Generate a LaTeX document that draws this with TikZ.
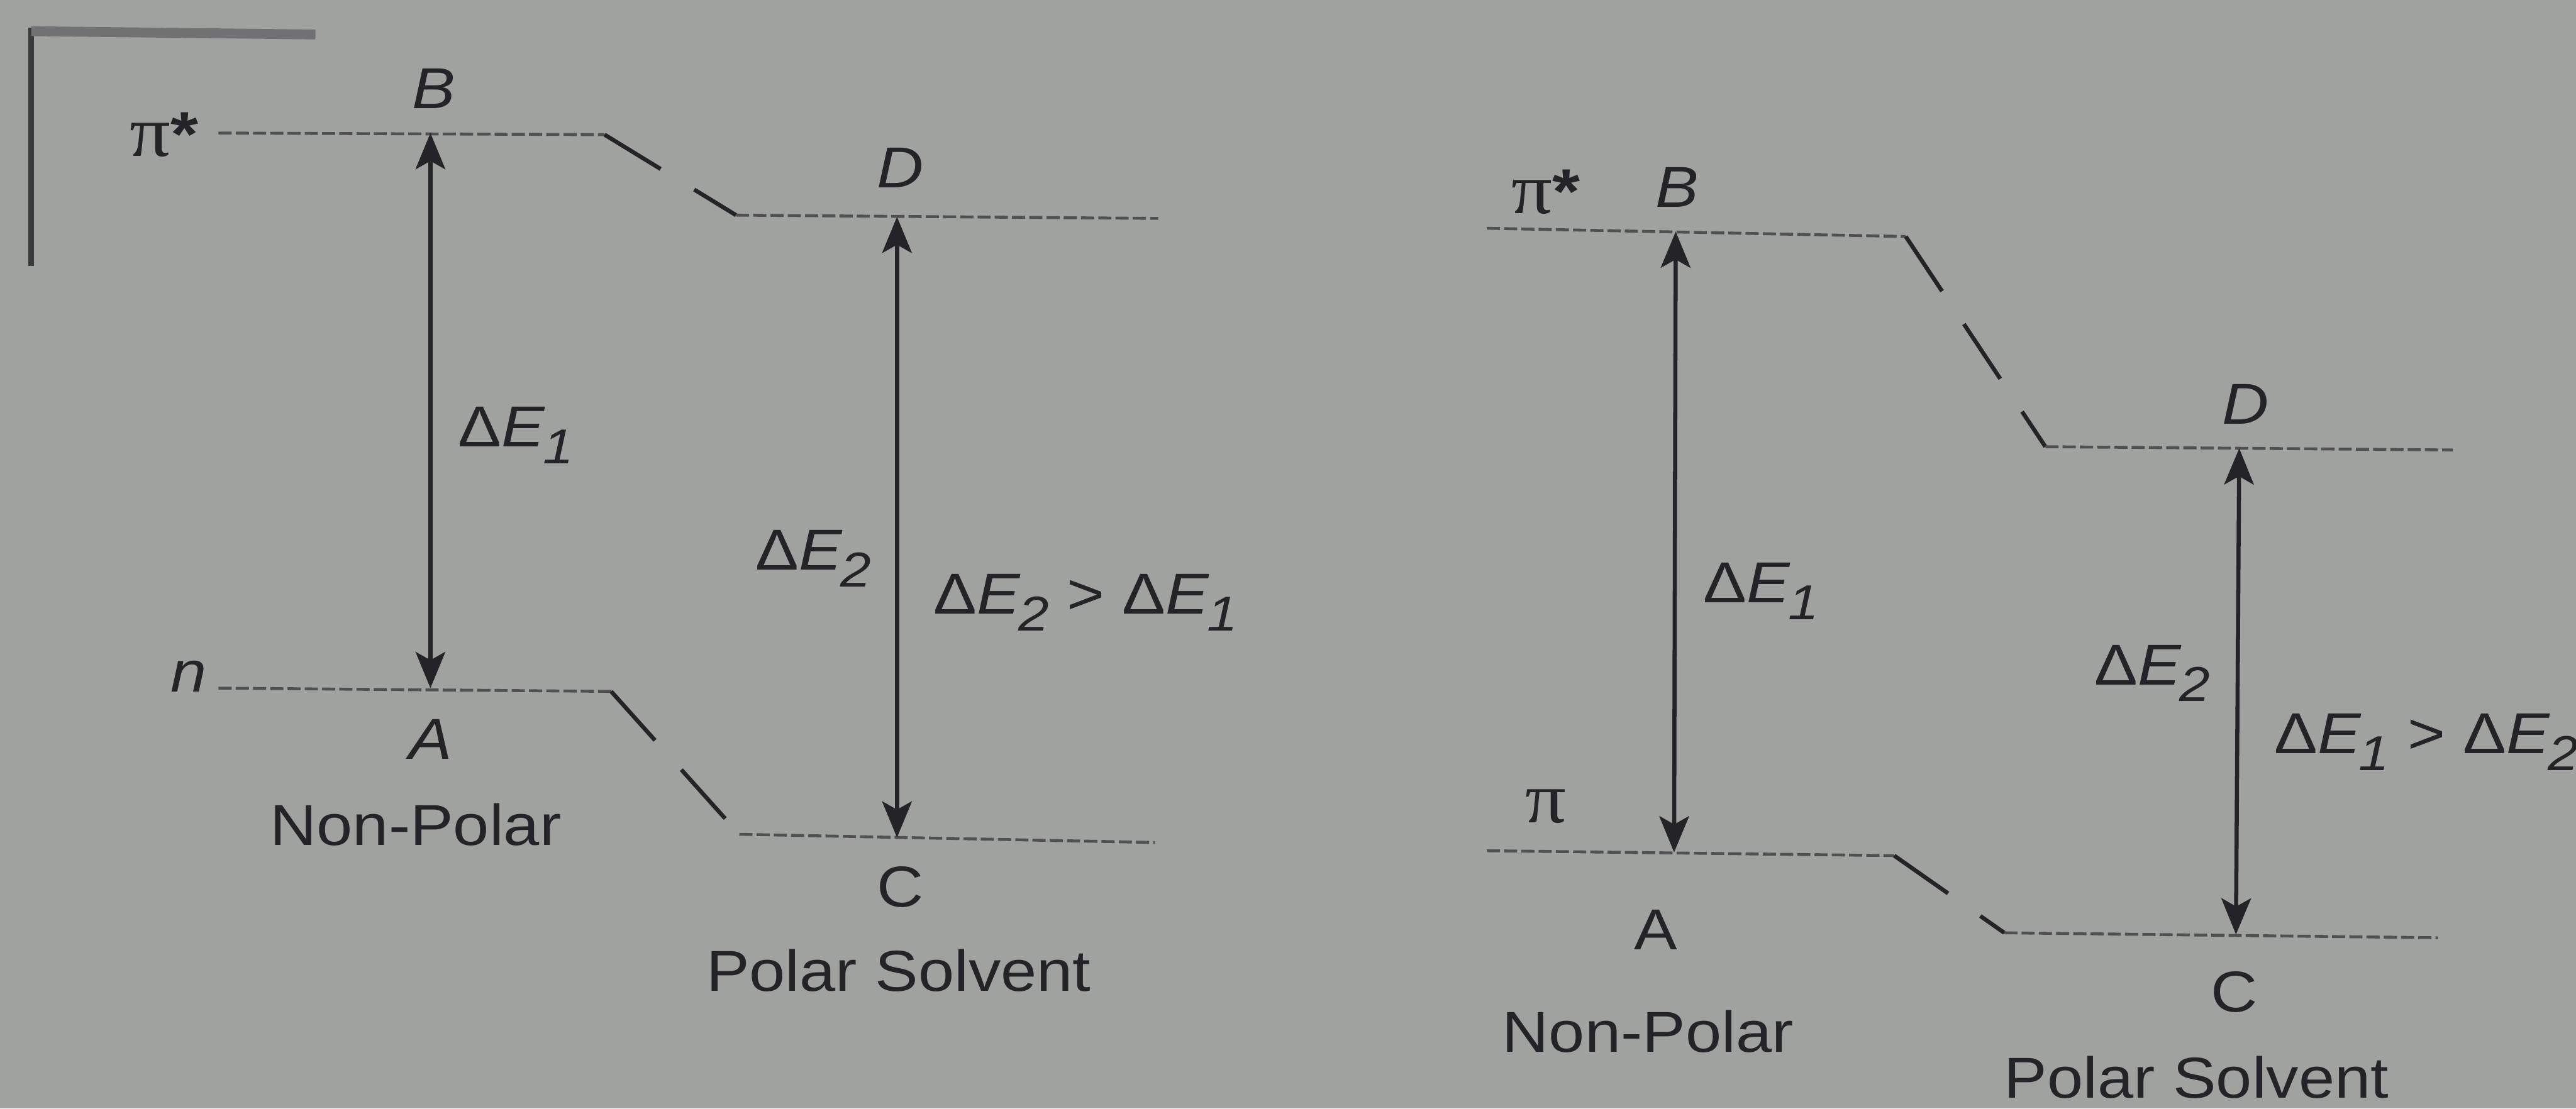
\documentclass[tikz,border=0pt]{standalone}
\usepackage{fontspec}
\setmainfont{Liberation Sans}[FakeStretch=1.12]
\newfontfamily\grfont{Liberation Serif}[FakeStretch=1.12]
\usetikzlibrary{arrows.meta,positioning}
\definecolor{papel}{RGB}{159,162,158}
\definecolor{tinta}{RGB}{36,36,40}
\definecolor{gnivel}{RGB}{80,80,82}
\newcommand{\dE}[1]{Δ\textit{E}\kern-0.04em\raisebox{-0.55ex}{\fontsize{17}{17}\selectfont\textit{#1}}}
\newcommand{\piest}{{\grfont\fontsize{25}{28}\selectfont π}{\fontsize{22}{24}\selectfont\bfseries *}}

\begin{document}
\begin{tikzpicture}[x=0.2mm,y=-0.2mm,
nivel/.style={draw=gnivel,line width=0.35mm,dash pattern=on 1.6mm off 0.5mm},
salto/.style={draw=tinta,line width=0.5mm,dash pattern=on 8mm off 4.8mm},
flecha/.style={draw=tinta,line width=0.5mm,{Stealth[length=4.4mm,width=3.6mm,inset=1mm]}-{Stealth[length=4.4mm,width=3.6mm,inset=1mm]}},
txt/.style={text=tinta,inner sep=0pt,font=\fontsize{20}{24}\selectfont},
letra/.style={txt,font=\fontsize{20}{24}\selectfont\itshape}
]
\fill[papel] (0,0) rectangle (1568,675);
\useasboundingbox (0,0) rectangle (1568,675);

% page corner
\draw[tinta!90,line width=0.7mm] (19,162) -- (19,17);
\draw[tinta!65,line width=1.2mm] (19,19) -- (192,21);

% left: n -> pi*
\coordinate (B1i) at (133,81);  \coordinate (B1d) at (368,82);
\coordinate (D1i) at (448,131); \coordinate (D1d) at (705,133);
\coordinate (A1i) at (133,419); \coordinate (A1d) at (372,421);
\coordinate (C1i) at (450,508); \coordinate (C1d) at (703,513);
\coordinate (B1) at (262,81);  \coordinate (A1) at (262,419);
\coordinate (D1) at (546,132); \coordinate (C1) at (546,510);

\draw[nivel] (B1i) -- (B1d);
\draw[salto] (B1d) -- (D1i);
\draw[nivel] (D1i) -- (D1d);
\draw[nivel] (A1i) -- (A1d);
\draw[salto] (A1d) -- (C1i);
\draw[nivel] (C1i) -- (C1d);
\draw[flecha] (A1) -- (B1);
\draw[flecha] (C1) -- (D1);

\node[txt] (pe1) at (100,82) {\piest};
\node[letra] (lB1) at (264,54) {B};
\node[letra] (lD1) at (548,102) {D};
\node[txt] (lE11) at (314,265) {\dE{1}};
\node[txt] (lE21) at (495,340) {\dE{2}};
\node[txt,anchor=west] (cmp1) at (568,367) {\dE{2} > \dE{1}};
\node[letra] (ln) at (115,412) {n};
\node[letra] (lA1) at (262,450) {A};
\node[txt] (np1) at (253,502) {Non-Polar};
\node[txt] (lC1) at (548,540) {C};
\node[txt] (ps1) at (547,591) {Polar Solvent};

% right: pi -> pi*
\coordinate (B2i) at (905,139);  \coordinate (B2d) at (1160,144);
\coordinate (D2i) at (1245,272); \coordinate (D2d) at (1493,274);
\coordinate (A2i) at (905,518);  \coordinate (A2d) at (1153,521);
\coordinate (C2i) at (1220,568); \coordinate (C2d) at (1484,571);
\coordinate (B2) at (1020,141);  \coordinate (A2) at (1019,519);
\coordinate (D2) at (1363,273);  \coordinate (C2) at (1361,569);

\draw[nivel] (B2i) -- (B2d);
\draw[salto] (B2d) -- (D2i);
\draw[nivel] (D2i) -- (D2d);
\draw[nivel] (A2i) -- (A2d);
\draw[salto] (A2d) -- (C2i);
\draw[nivel] (C2i) -- (C2d);
\draw[flecha] (A2) -- (B2);
\draw[flecha] (C2) -- (D2);

\node[txt] (pe2) at (941,117) {\piest};
\node[letra] (lB2) at (1021,114) {B};
\node[letra] (lD2) at (1367,246) {D};
\node[txt] (lE12) at (1072,360) {\dE{1}};
\node[txt] (lE22) at (1310,410) {\dE{2}};
\node[txt,anchor=west] (cmp2) at (1384,452) {\dE{1} > \dE{2}};
\node[txt] (lpi) at (941,491) {\grfont\fontsize{25}{28}\selectfont π};
\node[txt] (lA2) at (1008,566) {A};
\node[txt] (np2) at (1003,628) {Non-Polar};
\node[txt] (lC2) at (1360,604) {C};
\node[txt] (ps2) at (1337,656) {Polar Solvent};
\end{tikzpicture}
\end{document}
